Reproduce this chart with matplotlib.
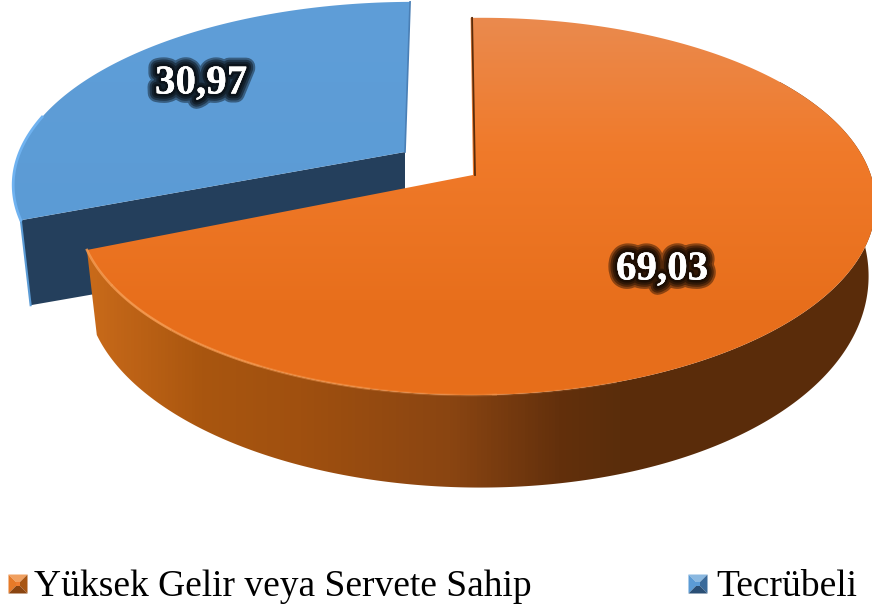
import numpy as np
import matplotlib
matplotlib.use('Agg')
import matplotlib.pyplot as plt
import matplotlib.patheffects as pe
from matplotlib.colors import LinearSegmentedColormap
from matplotlib.patches import Polygon

names = ['Yüksek Gelir veya Servete Sahip', 'Tecrübeli']
shares = [69.03, 30.97]
labels = ['69,03', '30,97']

W, H = 872, 608
START = 2.5  # degrees, clockwise from the back of the pie


def project(theta, cx, cy, A, B, s=-20.0, t=12.0, k=0.167):
    # unit circle -> screen, tilted with some perspective
    u, v = np.sin(np.radians(theta)), np.cos(np.radians(theta))
    w = 1 + k * v
    return cx + (A * u + s * v) / w, cy - (B * v + t * u) / w


def lower(theta, x, y, x0):
    # same rim, moved down by the thickness of the pie
    u, v = np.sin(np.radians(theta)), np.cos(np.radians(theta))
    d = 70.4 - 21.6 * v - 8.0 * u
    dx = 20 * np.clip(-v, 0, 1) ** 2
    return x0 + (x - x0) * 0.98 + dx, y + d


def gradient(ax, stops, patch, vertical):
    cmap = LinearSegmentedColormap.from_list('g', stops)
    g = np.linspace(0, 1, 256)
    g = g.reshape(-1, 1) if vertical else g.reshape(1, -1)
    im = ax.imshow(g, cmap=cmap, extent=(0, W, H, 0), aspect='auto',
                   interpolation='bilinear', zorder=patch.get_zorder())
    im.set_clip_path(patch)


fig = plt.figure(figsize=(W / 100, H / 100), dpi=100)
ax = fig.add_axes([0, 0, 1, 1])

end = START + shares[0] / sum(shares) * 360

# ---- blue slice, pulled out to the back left
th_b = np.linspace(end, START + 360, 200)
bx, by = project(th_b, 405, 152, 388, 175, s=-11, t=8)
bx2, by2 = lower(th_b, bx, by, 405)

cut = Polygon([(405, 152), (bx[0], by[0]), (bx2[0], by2[0]), (405, 240)],
              fc='#243f5c', ec='none', zorder=3)
ax.add_patch(cut)
ax.plot([bx[0], bx2[0]], [by[0], by2[0]], color='#5b9bd5', lw=1.5, zorder=3)
top_b = Polygon(np.r_[[(405, 152)], np.c_[bx, by]], fc='none', ec='none', zorder=4)
ax.add_patch(top_b)
gradient(ax, [(0, '#5f9ed8'), (0.4, '#5b9bd5'), (1, '#5b9bd5')], top_b, True)
keep = th_b < 285
ax.plot(bx[keep], by[keep], color='#6fb2f0', lw=2, zorder=5)
ax.plot([bx[-1], 405], [by[-1], 152], color='#4a7fb5', lw=1.2, zorder=5)

# ---- orange slice
th_o = np.linspace(START, end, 400)
ox, oy = project(th_o, 473, 175, 393, 183, t=12)
front = th_o > 60
ox2, oy2 = lower(th_o[front], ox[front], oy[front], 475)

wall = Polygon(np.r_[np.c_[ox[front], oy[front]], np.c_[ox2, oy2][::-1]], fc='none', ec='none', zorder=6)
ax.add_patch(wall)
gradient(ax, [(0, '#c96a1a'), (88 / W, '#c96a1a'), (200 / W, '#a9560f'), (300 / W, '#a0500f'),
              (450 / W, '#8a4512'), (560 / W, '#63300c'), (620 / W, '#5a2d0b'), (1, '#5a2c0a')],
         wall, False)
top_o = Polygon(np.r_[[(473, 175)], np.c_[ox, oy]], fc='none', ec='none', zorder=7)
ax.add_patch(top_o)
gradient(ax, [(0, '#ea8a4e'), (18 / H, '#ea8a4e'), (150 / H, '#f07a2a'), (300 / H, '#e86f1c'), (1, '#e66c18')],
         top_o, True)
# light rim fading out towards the front
for lo, al in zip((165, 180, 195, 210, 225), (0.15, 0.3, 0.5, 0.7, 0.85)):
    rim = (th_o > lo) & (th_o <= lo + 16)
    ax.plot(ox[rim], oy[rim], color='#f59a50', lw=1.8, alpha=al, zorder=8, solid_capstyle='butt')
rim = th_o > 240
ax.plot(ox[rim], oy[rim], color='#f59a50', lw=1.8, alpha=0.85, zorder=8)
ax.plot([ox[0] + 1.5, 475], [oy[0], 175], color='#5a2c0a', lw=1.3, zorder=8)

# ---- value labels with the dark glow
glow = [pe.withStroke(linewidth=lw, foreground='black', alpha=0.4) for lw in (13, 10, 7, 4)]
pos = [(662, 270), (201, 84)]
for txt, (x, y) in zip(labels, pos):
    ax.text(x, y, txt, color='white', family='Liberation Serif', weight='bold', fontsize=29.5,
            ha='center', va='center', path_effects=glow + [pe.Normal()], zorder=10)

# ---- legend
keys = [
    (18, ('#f0a060', '#e67a28', '#a85512', '#8a4510'), '#ed7d31'),
    (698, ('#8ab8e0', '#5b9bd5', '#3a6a9a', '#2a4f75'), '#5b9bd5'),
]
text_x = [34, 716]
for (kx, shades, mid), name, tx in zip(keys, names, text_x):
    ky, r, q = 584, 9.5, 2.0
    out = [(kx - r, ky - r), (kx + r, ky - r), (kx + r, ky + r), (kx - r, ky + r)]
    inn = [(kx - q, ky - q), (kx + q, ky - q), (kx + q, ky + q), (kx - q, ky + q)]
    order = [(0, 1), (3, 0), (1, 2), (2, 3)]
    for (i, j), c in zip(order, shades):
        ax.add_patch(Polygon([out[i], out[j], inn[j], inn[i]], fc=c, ec='none', zorder=10))
    ax.add_patch(Polygon(inn, fc=mid, ec='none', zorder=10))
    ax.text(tx, 596, name, color='black', family='Liberation Serif', fontsize=27,
            ha='left', va='baseline', zorder=10)

ax.set_xlim(0, W)
ax.set_ylim(H, 0)
ax.axis('off')
fig.savefig('out.png', dpi=100, facecolor='white')
